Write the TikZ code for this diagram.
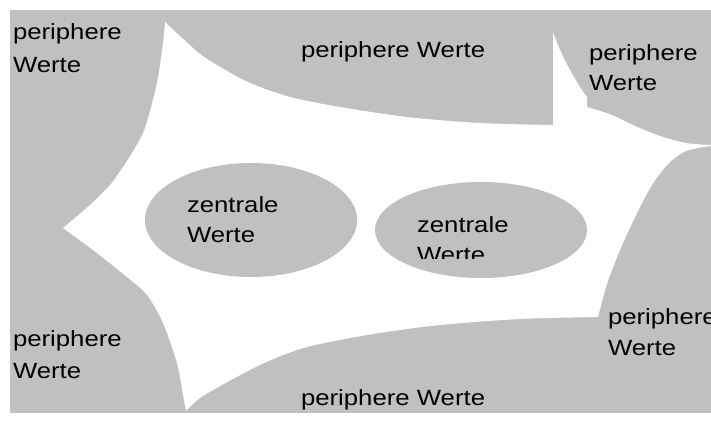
\documentclass[tikz,border=0pt]{standalone}
\usepackage{fontspec}
\setmainfont{Liberation Sans}[FakeStretch=1.17]
\definecolor{bggray}{RGB}{192,192,192}
\tikzset{
  lbl/.style={anchor=base west, inner sep=0pt, outer sep=0pt, font=\fontsize{22}{30}\selectfont, text=black},
  core/.style={ellipse, fill=bggray, draw=none, inner sep=0pt}
}
\usetikzlibrary{shapes.geometric}
\begin{document}
\begin{tikzpicture}[x=1pt,y=-1pt]
\useasboundingbox (0,0) rectangle (711,423);
\fill[bggray] (10,10) rectangle (711,413);
% white central region
\fill[white]
  plot[smooth,tension=0.5] coordinates {(165,22) (180,36) (200,54) (222,68) (250,83) (290,97) (340,107) (407,117) (480,123) (553,125)}
  -- (553,32)
  -- plot[smooth,tension=0.5] coordinates {(553,32) (560,50) (570,70) (580,87) (587,97)}
  -- (587,107)
  -- plot[smooth,tension=0.5] coordinates {(587,107) (612,115) (635,126) (660,136) (686,143) (711,145)}
  -- plot[smooth,tension=0.5] coordinates {(711,146) (686,151) (668,164) (652,185) (637,213) (620,250) (607,284) (598,317)}
  -- plot[smooth,tension=0.5] coordinates {(598,317) (520,319) (440,325) (373,334) (307,347) (262,364) (222,385) (200,398) (186,411)}
  -- plot[smooth,tension=0.5] coordinates {(186,411) (183,395) (177,363) (163,323) (147,295) (127,277) (93,250) (63,228)}
  -- plot[smooth,tension=0.5] coordinates {(63,228) (90,205) (110,185) (123,167) (135,148) (145,128) (157,83) (163,43) (165,22)}
  -- cycle;
% central ellipses
\node[core, minimum width=212pt, minimum height=114pt] (c1) at (251,220) {};
\node[core, minimum width=212pt, minimum height=96pt] (c2) at (481,230) {};
% labels
\node[lbl] (tla) at (13,39) {periphere};
\node[lbl] (tlb) at (13,72) {Werte};
\node[lbl] (tm) at (301,57) {periphere Werte};
\node[lbl] (tra) at (589,60) {periphere};
\node[lbl] (trb) at (589,90) {Werte};
\node[lbl] (bla) at (13,346) {periphere};
\node[lbl] (blb) at (13,378) {Werte};
\node[lbl] (bm) at (301,405) {periphere Werte};
\node[lbl] (bra) at (608,324) {periphere};
\node[lbl] (brb) at (608,355) {Werte};
\node[lbl] (c1a) at (187,212) {zentrale};
\node[lbl] (c1b) at (187,242) {Werte};
\node[lbl] (c2a) at (417,232) {zentrale};
\begin{scope}
  \clip (0,0) rectangle (711,258);
  \node[lbl] (c2b) at (417,262) {Werte};
\end{scope}
\end{tikzpicture}
\end{document}
